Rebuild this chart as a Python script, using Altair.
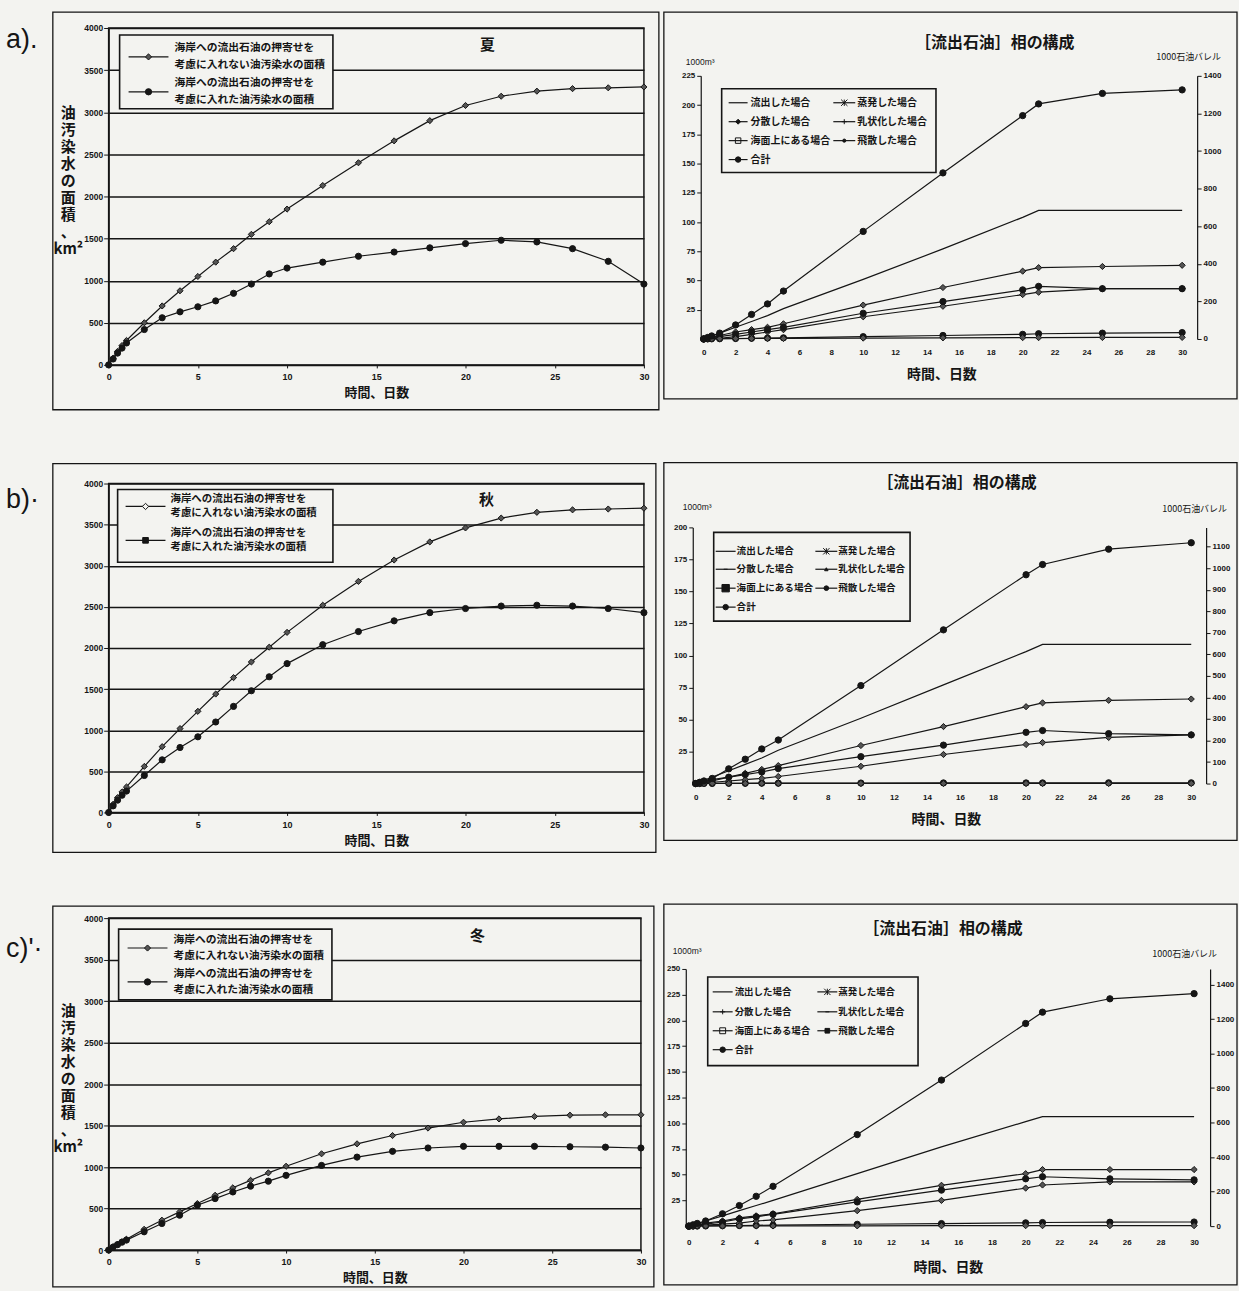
import altair as alt
import pandas as pd

FONT = "Noto Sans CJK JP"
NUM = "Liberation Sans"
INK = "#151515"
PAPER = "#f3f3f0"

# ---------------- data ----------------
DAYS_LEFT = [0, 0.25, 0.5, 0.75, 1, 2, 3, 4, 5, 6, 7, 8, 9, 10, 12, 14, 16, 18, 20, 22, 24, 26, 28, 30]

SUMMER_NO_SHORE = [0, 80, 160, 230, 290, 500, 700, 880, 1050, 1220, 1380, 1550, 1700, 1850,
                   2130, 2400, 2660, 2900, 3080, 3190, 3250, 3280, 3290, 3300]
SUMMER_SHORE = [0, 70, 140, 200, 260, 420, 560, 630, 690, 760, 850, 960, 1080, 1150,
                1220, 1290, 1340, 1390, 1440, 1480, 1460, 1380, 1230, 960]

AUTUMN_NO_SHORE = [0, 100, 180, 250, 310, 560, 800, 1020, 1230, 1440, 1640, 1830, 2010, 2190,
                   2520, 2810, 3070, 3290, 3460, 3580, 3650, 3680, 3690, 3700]
AUTUMN_SHORE = [0, 80, 150, 210, 260, 450, 640, 790, 920, 1100, 1290, 1480, 1650, 1810,
                2040, 2200, 2330, 2430, 2480, 2510, 2520, 2510, 2480, 2430]

WINTER_NO_SHORE = [0, 40, 70, 100, 130, 250, 360, 460, 560, 660, 750, 840, 930, 1010,
                   1160, 1280, 1380, 1470, 1540, 1580, 1610, 1625, 1630, 1630]
WINTER_SHORE = [0, 35, 65, 95, 120, 220, 320, 420, 540, 620, 700, 770, 830, 900,
                1020, 1120, 1190, 1230, 1250, 1250, 1250, 1245, 1240, 1230]

LEFT_SERIES = ["海岸への流出石油の押寄せを考慮に入れない油汚染水の面積",
               "海岸への流出石油の押寄せを考慮に入れた油汚染水の面積"]
LEFT_LEGEND_LINES = [["海岸への流出石油の押寄せを", "考慮に入れない油汚染水の面積"],
                     ["海岸への流出石油の押寄せを", "考慮に入れた油汚染水の面積"]]
SEASONS = ["夏", "秋", "冬"]
PANEL_TAGS = ["a).", "b)·", "c)'·"]
Y_TITLE = ["油", "汚", "染", "水", "の", "面", "積", "、", "km²"]
X_TITLE = "時間、日数"

DAYS_RIGHT = [0, 0.25, 0.5, 1, 2, 3, 4, 5, 10, 15, 20, 21, 25, 30]
PHASES = ["流出した場合", "蒸発した場合", "分散した場合", "乳状化した場合",
          "海面上にある場合", "飛散した場合", "合計"]

SUMMER_PHASES = {
    "流出した場合": [0, 1.3, 2.6, 5, 10, 15, 20, 26, 51, 77, 104, 110, 110, 110],
    "蒸発した場合": [0, 0.7, 1.4, 3, 6, 8, 10, 13, 29, 44, 58, 61, 62, 63],
    "分散した場合": [0, 0.1, 0.1, 0.2, 0.4, 0.6, 0.8, 1, 2, 3, 4, 4.5, 5, 5.5],
    "乳状化した場合": [0, 0, 0.1, 0.5, 2, 4, 6, 8, 19, 28, 38, 40, 43, 43],
    "海面上にある場合": [0, 0.5, 1, 2, 4, 6, 8, 10, 22, 32, 42, 45, 43, 43],
    "飛散した場合": [0, 0.1, 0.1, 0.2, 0.3, 0.4, 0.5, 0.5, 0.8, 1, 1.2, 1.2, 1.3, 1.4],
    "合計": [0, 1.3, 2.6, 5, 12, 21, 30, 41, 92, 142, 191, 201, 210, 213],
}
AUTUMN_PHASES = {
    "流出した場合": [0, 1.3, 2.6, 5, 10, 15, 20, 26, 51, 77, 103, 108.6, 108.6, 108.6],
    "蒸発した場合": [0, 0.5, 1, 2, 5, 8, 11, 14, 29.7, 44.5, 60, 63, 65, 66],
    "分散した場合": [0, 0, 0.1, 0.1, 0.2, 0.2, 0.3, 0.3, 0.4, 0.5, 0.5, 0.5, 0.6, 0.6],
    "乳状化した場合": [0, 0.2, 0.4, 1, 2, 3, 4, 5.5, 13.5, 22.7, 30.5, 32, 36, 38],
    "海面上にある場合": [0, 0.8, 1.5, 3, 5, 7, 9, 11.7, 21, 30, 40, 41.4, 39, 38],
    "飛散した場合": [0, 0, 0, 0.1, 0.1, 0.1, 0.1, 0.1, 0.1, 0.1, 0.1, 0.1, 0.1, 0.1],
    "合計": [0, 1, 2, 4, 11.5, 19, 27, 34, 76.5, 120, 163, 171, 183, 188],
}
WINTER_PHASES = {
    "流出した場合": [0, 1.3, 2.6, 5, 10, 15, 20, 25, 51, 77, 101.6, 106.5, 106.5, 106.5],
    "蒸発した場合": [0, 0.7, 1.4, 3, 5, 8, 10, 12, 26, 39.7, 51, 55, 55, 55],
    "分散した場合": [0, 0.1, 0.1, 0.2, 0.4, 0.6, 0.8, 1, 1.8, 2.5, 3.2, 3.5, 3.8, 4],
    "乳状化した場合": [0, 0.1, 0.2, 1, 2, 3, 5, 6, 15, 25, 37, 40, 43, 43],
    "海面上にある場合": [0, 0.5, 1, 2, 4, 7, 9, 11.5, 23.5, 35, 46, 48, 46, 45],
    "飛散した場合": [0, 0, 0.1, 0.1, 0.1, 0.2, 0.2, 0.2, 0.3, 0.4, 0.5, 0.5, 0.5, 0.5],
    "合計": [0, 1.3, 2.6, 5, 12, 20, 29, 38.7, 89, 142, 197, 208, 221, 226],
}
RIGHT_TITLE = "［流出石油］相の構成"
UNIT_M3 = "1000m³"
UNIT_BBL = "1000石油バレル"

# ---------------- styles ----------------
ASTER = "M-1,-1L1,1M-1,1L1,-1M0,-1L0,1"
PLUS = "M-1,0L1,0M0,-1L0,1"
DASH = "M-1,0L1,0"
NOFILL = "transparent"

STYLE_A = {"蒸発した場合": (ASTER, NOFILL, 40), "分散した場合": ("diamond", INK, 25),
           "海面上にある場合": ("square", NOFILL, 30), "乳状化した場合": (PLUS, NOFILL, 25),
           "飛散した場合": ("circle", INK, 10), "合計": ("circle", INK, 30)}
STYLE_B = {"蒸発した場合": (ASTER, NOFILL, 40), "分散した場合": (DASH, NOFILL, 15),
           "海面上にある場合": ("square", INK, 55), "乳状化した場合": ("triangle-up", INK, 12),
           "飛散した場合": ("circle", INK, 22), "合計": ("circle", INK, 30)}
STYLE_C = {"蒸発した場合": (ASTER, NOFILL, 40), "分散した場合": (PLUS, NOFILL, 25),
           "海面上にある場合": ("square", NOFILL, 35), "乳状化した場合": (DASH, NOFILL, 15),
           "飛散した場合": ("square", INK, 22), "合計": ("circle", INK, 30)}


def one():
    return alt.Data(values=[{"k": 1}])


def frame_layers(x1, y1, x2, y2, left_pad):
    spacer = alt.Chart(one()).mark_rect(opacity=0).encode(
        x=alt.value(left_pad), x2=alt.value(x1), y=alt.value(y1), y2=alt.value(y2))
    frame = alt.Chart(one()).mark_rect(filled=False, stroke=INK, strokeWidth=1.3).encode(
        x=alt.value(x1), x2=alt.value(x2), y=alt.value(y1), y2=alt.value(y2))
    return [spacer, frame]


def txt(s, x, y, size, font=FONT, weight="bold", align="left", baseline="middle"):
    return alt.Chart(one()).mark_text(text=s, font=font, fontSize=size, fontWeight=weight,
                                      color=INK, align=align, baseline=baseline).encode(
        x=alt.value(x), y=alt.value(y))


def left_chart(p):
    w, h = p["w"], p["h"]
    n = len(DAYS_LEFT)
    df = pd.DataFrame({"day": DAYS_LEFT * 2, "area": p["s1"] + p["s2"],
                       "series": [LEFT_SERIES[0]] * n + [LEFT_SERIES[1]] * n})
    xaxis = alt.Axis(values=list(range(0, 31, 5)), format="d", title=X_TITLE, titleFont=FONT,
                     titleFontSize=13, titleFontWeight="bold", titleColor=INK, titlePadding=5,
                     labelFont=NUM, labelFontSize=9, labelFontWeight="bold", labelColor=INK,
                     labelPadding=5, tickSize=3, tickColor=INK, domainColor=INK, domainWidth=1.3,
                     grid=False, labelFlush=False)
    yaxis_kw = dict(values=list(range(0, 4001, 500)), format="d", grid=True, gridColor=INK,
                    gridWidth=1.5, gridOpacity=1, labelFont=NUM, labelFontSize=8.5,
                    labelFontWeight="bold", labelColor=INK, labelPadding=1, tickSize=5,
                    tickColor=INK, domainColor=INK, domainWidth=1.3)
    if p["ytitle"]:
        yaxis = alt.Axis(title=Y_TITLE, titleAngle=0, titleFont=FONT, titleFontSize=15,
                         titleFontWeight="bold", titleColor=INK, titleAlign="center",
                         titleBaseline="top", titleX=p["ytx"], titleY=p["yty"],
                         titleLineHeight=17, **yaxis_kw)
    else:
        yaxis = alt.Axis(title=None, **yaxis_kw)
    xenc = alt.X("day:Q", scale=alt.Scale(domain=[0, 30], nice=False, zero=False), axis=xaxis)
    yenc = alt.Y("area:Q", scale=alt.Scale(domain=[0, 4000], nice=False), axis=yaxis)
    base = alt.Chart(df)
    lines = base.mark_line(color=INK, strokeWidth=1.2).encode(xenc, yenc, detail="series:N")
    pts = base.mark_point(stroke=INK, strokeWidth=1, opacity=1, fillOpacity=1).encode(
        xenc, yenc,
        shape=alt.Shape("series:N", scale=alt.Scale(domain=LEFT_SERIES, range=[p["sh1"][0], p["sh2"][0]]), legend=None),
        fill=alt.Fill("series:N", scale=alt.Scale(domain=LEFT_SERIES, range=[p["sh1"][1], p["sh2"][1]]), legend=None),
        size=alt.Size("series:N", scale=alt.Scale(domain=LEFT_SERIES, range=[p["sh1"][2], p["sh2"][2]]), legend=None),
    )
    fx1, fy1, fx2, fy2 = p["frame"]
    layers = frame_layers(fx1, fy1, fx2, fy2, p["lpad"]) + [lines, pts]
    lg = p["legend"]
    bx1, by1, bx2, by2 = lg["box"]
    layers.append(alt.Chart(one()).mark_rect(fill=PAPER, stroke=INK, strokeWidth=1.6).encode(
        x=alt.value(bx1), x2=alt.value(bx2), y=alt.value(by1), y2=alt.value(by2)))
    for i, lines_txt in enumerate(LEFT_LEGEND_LINES):
        yc = lg["ys"][i]
        sh = p["sh1"] if i == 0 else p["sh2"]
        layers.append(alt.Chart(one()).mark_rule(color=INK, strokeWidth=1.2).encode(
            x=alt.value(lg["sym"][0]), x2=alt.value(lg["sym"][1]), y=alt.value(yc)))
        layers.append(alt.Chart(one()).mark_point(shape=sh[0], fill=sh[1], size=sh[2], stroke=INK,
                                                  strokeWidth=1, opacity=1, fillOpacity=1).encode(
            x=alt.value((lg["sym"][0] + lg["sym"][1]) / 2), y=alt.value(yc)))
        layers.append(txt(lines_txt[0], lg["tx"], yc - lg["gap"] / 2, lg["fs"]))
        layers.append(txt(lines_txt[1], lg["tx"], yc + lg["gap"] / 2, lg["fs"]))
    layers.append(txt(p["season"], p["season_xy"][0], p["season_xy"][1], 15, align="center"))
    layers.append(txt(p["tag"], p["tag_xy"][0], p["tag_xy"][1], 27, font=NUM, weight="normal"))
    return alt.layer(*layers).properties(
        width=w, height=h, view=alt.ViewBackground(stroke=INK, strokeWidth=1.5))


def right_chart(p):
    w, h = p["w"], p["h"]
    data = p["data"]
    rows = []
    for ph in PHASES:
        for d, v in zip(DAYS_RIGHT, data[ph]):
            rows.append({"day": d, "vol": v, "phase": ph})
    df = pd.DataFrame(rows)
    styles = p["styles"]
    marked = [ph for ph in PHASES if ph in styles]
    xaxis = alt.Axis(values=list(range(0, 31, 2)), format="d", title=X_TITLE, titleFont=FONT,
                     titleFontSize=14, titleFontWeight="bold", titleColor=INK, titlePadding=p["xtp"],
                     labelFont=NUM, labelFontSize=8, labelFontWeight="bold", labelColor=INK,
                     labelPadding=p["xlp"], ticks=False, domain=False, grid=False, labelFlush=False)
    yaxis = alt.Axis(values=p["yvals"], format="d", title=None, grid=False, labelFont=NUM,
                     labelFontSize=8, labelFontWeight="bold", labelColor=INK, labelPadding=2,
                     tickSize=4, tickColor=INK, domainColor=INK, domainWidth=1.2, offset=p["yoff"])
    xenc = alt.X("day:Q", scale=alt.Scale(domain=p["xdom"], nice=False, zero=False), axis=xaxis)
    if p.get("yrange"):
        yscale = alt.Scale(domain=p["ydom"], nice=False, range=p["yrange"])
        bscale = alt.Scale(domain=p["bdom"], nice=False, range=p["yrange"])
    else:
        yscale = alt.Scale(domain=p["ydom"], nice=False)
        bscale = alt.Scale(domain=p["bdom"], nice=False)
    base = alt.Chart(df)
    lines = base.mark_line(color=INK, strokeWidth=1.2).encode(
        xenc, alt.Y("vol:Q", scale=yscale, axis=yaxis), detail="phase:N")
    pts = base.transform_filter(alt.FieldOneOfPredicate(field="phase", oneOf=marked)).mark_point(
        stroke=INK, strokeWidth=1, opacity=1, fillOpacity=1).encode(
        xenc, alt.Y("vol:Q", scale=yscale, axis=None),
        shape=alt.Shape("phase:N", scale=alt.Scale(domain=marked, range=[styles[m][0] for m in marked]), legend=None),
        fill=alt.Fill("phase:N", scale=alt.Scale(domain=marked, range=[styles[m][1] for m in marked]), legend=None),
        size=alt.Size("phase:N", scale=alt.Scale(domain=marked, range=[styles[m][2] for m in marked]), legend=None),
    )
    bbl = alt.Chart(alt.Data(values=[{"b": 0}])).mark_point(opacity=0).encode(
        y=alt.Y("b:Q", scale=bscale,
                axis=alt.Axis(orient="right", values=p["bvals"], format="d", title=None, grid=False,
                              labelFont=NUM, labelFontSize=8, labelFontWeight="bold",
                              labelColor=INK, labelPadding=2, tickSize=4, tickColor=INK,
                              domainColor=INK, domainWidth=1.2)))
    fx1, fy1, fx2, fy2 = p["frame"]
    layers = frame_layers(fx1, fy1, fx2, fy2, fx1) + [lines, pts, bbl]
    lg = p["legend"]
    bx1, by1, bx2, by2 = lg["box"]
    layers.append(alt.Chart(one()).mark_rect(fill=PAPER, stroke=INK, strokeWidth=1.6).encode(
        x=alt.value(bx1), x2=alt.value(bx2), y=alt.value(by1), y2=alt.value(by2)))
    for i, ph in enumerate(PHASES):
        col = lg["c1"] if i % 2 == 0 else lg["c2"]
        yc = lg["rows"][i // 2]
        layers.append(alt.Chart(one()).mark_rule(color=INK, strokeWidth=1.2).encode(
            x=alt.value(col[0]), x2=alt.value(col[1]), y=alt.value(yc)))
        if ph in styles:
            sh = styles[ph]
            layers.append(alt.Chart(one()).mark_point(shape=sh[0], fill=sh[1], size=sh[2], stroke=INK,
                                                      strokeWidth=1, opacity=1, fillOpacity=1).encode(
                x=alt.value((col[0] + col[1]) / 2), y=alt.value(yc)))
        layers.append(txt(ph, col[2], yc, lg["fs"]))
    layers.append(txt(RIGHT_TITLE, p["title_xy"][0], p["title_xy"][1], 16, align="center"))
    layers.append(txt(UNIT_M3, p["unit_l"][0], p["unit_l"][1], 8.5, font=NUM, weight="normal"))
    layers.append(txt(UNIT_BBL, p["unit_r"][0], p["unit_r"][1], 9, weight="normal"))
    return alt.layer(*layers).resolve_scale(y="independent").properties(
        width=w, height=h, view=alt.ViewBackground(stroke="transparent"))


LA = left_chart(dict(w=537, h=338, s1=SUMMER_NO_SHORE, s2=SUMMER_SHORE, ytitle=True, ytx=-41, yty=78,
                     sh1=("diamond", "#555555", 38), sh2=("circle", INK, 40),
                     frame=(-56, -16, 552, 383), lpad=-108,
                     legend=dict(box=(11, 7, 225, 81), sym=(20, 60), tx=66, ys=[29, 64], gap=17, fs=10.8),
                     season=SEASONS[0], season_xy=(380, 17), tag=PANEL_TAGS[0], tag_xy=(-103, 12)))
LB = left_chart(dict(w=537, h=330, s1=AUTUMN_NO_SHORE, s2=AUTUMN_SHORE, ytitle=False, ytx=0, yty=0,
                     sh1=("diamond", PAPER, 40), sh2=("square", INK, 32),
                     frame=(-56, -20, 549, 370), lpad=-108,
                     legend=dict(box=(9, 6, 225, 79), sym=(17, 57), tx=62, ys=[23, 57], gap=14, fs=10.5),
                     season=SEASONS[1], season_xy=(379, 17), tag=PANEL_TAGS[1], tag_xy=(-103, 17)))
LC = left_chart(dict(w=534, h=333, s1=WINTER_NO_SHORE, s2=WINTER_SHORE, ytitle=True, ytx=-41, yty=86,
                     sh1=("diamond", "#555555", 38), sh2=("circle", INK, 40),
                     frame=(-56, -12, 547, 370), lpad=-108,
                     legend=dict(box=(10, 11, 224, 82), sym=(19, 59), tx=65, ys=[30, 64], gap=16, fs=10.8),
                     season=SEASONS[2], season_xy=(370, 18), tag=PANEL_TAGS[2], tag_xy=(-103, 31)))

RA = right_chart(dict(w=513, h=312, yrange=[312, 48], data=SUMMER_PHASES, styles=STYLE_A, ydom=[0, 225],
                      xdom=[-1.125, 30.94], yoff=-15, xlp=10, xtp=11,
                      yvals=list(range(25, 226, 25)), bdom=[0, 1400], bvals=list(range(0, 1401, 200)),
                      frame=(-22, -16, 553, 372), title_xy=(310, 15), unit_l=(0, 34), unit_r=(472, 29),
                      legend=dict(box=(36, 61, 251, 145), rows=[75, 94, 113, 132], c1=(43, 62, 65),
                                  c2=(148, 170, 172), fs=10)))
RB = right_chart(dict(w=522, h=257, data=AUTUMN_PHASES, styles=STYLE_B, ydom=[0, 200],
                      xdom=[-0.6, 30.9], yoff=-7, xlp=10, xtp=11,
                      yvals=list(range(25, 201, 25)), bdom=[0, 1190], bvals=list(range(0, 1101, 100)),
                      frame=(-22, -65, 553, 314), title_xy=(272, -45), unit_l=(-3, -20), unit_r=(478, -18),
                      legend=dict(box=(28, 5, 225, 94), rows=[24, 42, 61, 80], c1=(30, 50, 51),
                                  c2=(130, 152, 153), fs=9.6)))
RC = right_chart(dict(w=526, h=258, data=WINTER_PHASES, styles=STYLE_C, ydom=[0, 250],
                      xdom=[-0.18, 30.95], yoff=0, xlp=12, xtp=15,
                      yvals=list(range(25, 251, 25)), bdom=[0, 1490], bvals=list(range(0, 1401, 200)),
                      frame=(-22, -65, 553, 317), title_xy=(258, -40), unit_l=(-13, -18), unit_r=(468, -15),
                      legend=dict(box=(22, 8, 233, 97), rows=[23, 43, 62, 81], c1=(27, 47, 49),
                                  c2=(132, 152, 153), fs=9.5)))

left_col = alt.vconcat(LA, LB, LC, spacing=50)
right_col = alt.vconcat(RA, RB, RC, spacing=60)

chart = alt.hconcat(left_col, right_col, spacing=1).properties(
    padding={"left": 0, "top": 8, "right": 0, "bottom": 0},
    background=PAPER,
).configure_view(stroke="transparent")

chart.save("out.html", embed_options={"renderer": "svg", "actions": False})
